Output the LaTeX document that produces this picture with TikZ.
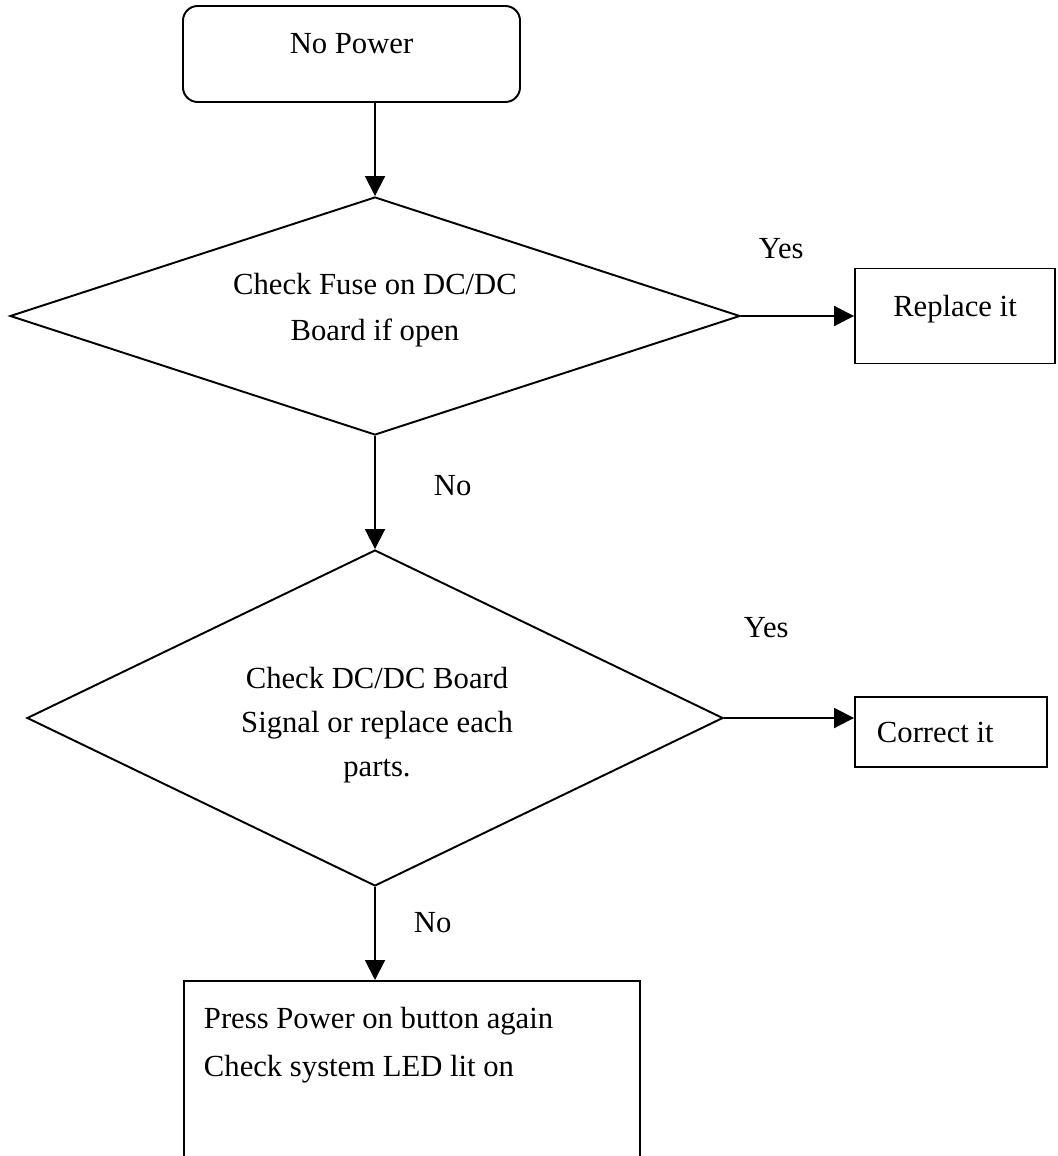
\documentclass[tikz,border=0pt]{standalone}
\usepackage{fontspec}
\setmainfont{Liberation Serif}
\usetikzlibrary{arrows.meta,shapes.geometric}

\begin{document}
\begin{tikzpicture}[x=0.75pt,y=-0.75pt,line width=1.45pt,
    flow/.style={-{Triangle[length=15pt,width=15pt]}},
    box/.style={draw,rectangle,inner sep=0pt},
    decision/.style={draw,diamond,inner sep=0pt},
    lbl/.style={inner sep=0pt,font=\fontsize{23}{35}\selectfont}]
  \clip (0,0) rectangle (1057,1156);
  % start of the chart
  \node[box,lbl,rounded corners=11pt,minimum width=252.75pt,minimum height=72pt,
        text height=8pt,text depth=8pt] (start) at (351.5,54) {No Power};
  % first check
  \node[decision,minimum width=547.5pt,minimum height=178.5pt] (fuse) at (375,316) {};
  \node[lbl,anchor=north,align=center] (fusetxt) at (375,272) {Check Fuse on DC/DC\\Board if open};
  \node[box,lbl,minimum width=150pt,minimum height=71.25pt,
        text height=8pt,text depth=8pt] (replace) at (955,316) {Replace it};
  % second check
  \node[decision,minimum width=522pt,minimum height=252pt] (board) at (375,718) {};
  \node[lbl,anchor=north,align=center,font=\fontsize{23}{33}\selectfont] (boardtxt) at (377,666)
    {Check DC/DC Board\\Signal or replace each\\parts.};
  \node[box,minimum width=144pt,minimum height=52.5pt] (correct) at (951,732) {};
  \node[lbl,anchor=base west] (correcttxt) at (876,742) {Correct it};
  % last step, runs off the page
  \node[box,minimum width=342pt,minimum height=150pt,anchor=north west] (press) at (183,980) {};
  \node[lbl,anchor=north west,align=left,font=\fontsize{23}{36}\selectfont] (presstxt) at (203,1006)
    {Press Power on button again\\Check system LED lit on};
  % answers
  \node[lbl,anchor=base west] (yesfuse) at (758,258) {Yes};
  \node[lbl,anchor=base west] (nofuse) at (433,495) {No};
  \node[lbl,anchor=base west] (yesboard) at (743,637) {Yes};
  \node[lbl,anchor=base west] (noboard) at (413,932) {No};
  % connectors
  \draw[flow] (start.south -| fuse.north) -- (fuse.north);
  \draw[flow] (fuse.east) -- (fuse.east -| replace.west);
  \draw[flow] (fuse.south) -- (board.north);
  \draw[flow] (board.east) -- (board.east -| correct.west);
  \draw[flow] (board.south) -- (board.south |- press.north);
\end{tikzpicture}
\end{document}
